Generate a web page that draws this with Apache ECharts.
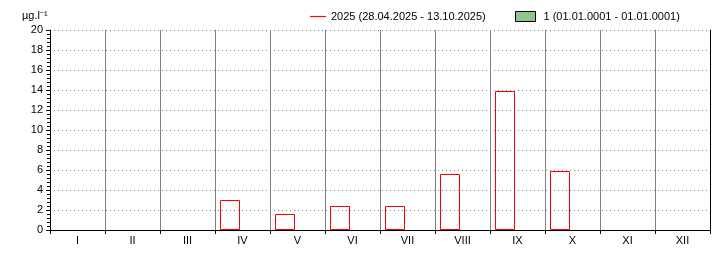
<!DOCTYPE html>
<html>
<head>
<meta charset="utf-8">
<script src="https://cdn.jsdelivr.net/npm/echarts@6/dist/echarts.min.js"></script>
<style>html,body{margin:0;padding:0;background:#fff;}#c{width:720px;height:260px;}</style>
</head>
<body>
<div id="c"></div>
<script>
var months = ['I','II','III','IV','V','VI','VII','VIII','IX','X','XI','XII'];
var values2025 = [null, null, null, 3.0, 1.6, 2.4, 2.4, 5.6, 13.9, 5.9, null, null];
var valuesRef = [null, null, null, null, null, null, null, null, null, null, null, null];
var seriesNames = ['2025 (28.04.2025 - 13.10.2025)', '1 (01.01.0001 - 01.01.0001)'];
var unitLabel = 'µg.l⁻¹';

var font = 'Liberation Sans, Arial, sans-serif';
var chart = echarts.init(document.getElementById('c'), null, {renderer: 'canvas'});
chart.setOption({
  animation: false,
  backgroundColor: '#fff',
  title: {
    text: unitLabel, left: 17, top: 5,
    textStyle: {fontFamily: font, fontSize: 11, fontWeight: 'normal', color: '#000'}
  },
  legend: [{
    left: 305, top: 6, itemWidth: 16, itemHeight: 10,
    data: [{name: seriesNames[0], icon: 'path://M0,0H16V1.2H0Z', itemStyle: {color: '#ff0000', borderWidth: 0}}],
    textStyle: {fontFamily: font, fontSize: 11, color: '#000'}
  }, {
    left: 510, top: 6, itemWidth: 20, itemHeight: 10,
    data: [{name: seriesNames[1], icon: 'rect', itemStyle: {color: '#8fc58f', borderColor: '#000', borderWidth: 1}}],
    textStyle: {fontFamily: font, fontSize: 11, color: '#000', padding: [0, 0, 0, 3]}
  }],
  grid: {left: 50, right: 10, top: 30, bottom: 30, containLabel: false},
  xAxis: [{
    type: 'category', data: months, boundaryGap: true,
    axisLine: {lineStyle: {color: '#000', width: 1}},
    axisTick: {show: true, length: 4, lineStyle: {color: '#000'}},
    axisLabel: {fontFamily: font, fontSize: 11, color: '#000', margin: 5, interval: 0},
    splitLine: {show: true, lineStyle: {color: '#808080', width: 1}}
  }, {
    type: 'category', data: months, position: 'top',
    axisLine: {lineStyle: {color: '#000', width: 1}},
    axisTick: {show: false}, axisLabel: {show: false}, splitLine: {show: false}
  }],
  yAxis: [{
    type: 'value', min: 0, max: 20, interval: 2,
    axisLine: {show: true, lineStyle: {color: '#000', width: 1}},
    axisTick: {show: true, length: 4, lineStyle: {color: '#000'}},
    minorTick: {show: true, splitNumber: 5, length: 3, lineStyle: {color: '#000'}},
    axisLabel: {fontFamily: font, fontSize: 11, color: '#000', margin: 7},
    splitLine: {show: true, lineStyle: {color: '#808080', type: [1, 3], width: 1}}
  }, {
    type: 'value', min: 0, max: 20, interval: 2, position: 'right',
    axisLine: {show: true, lineStyle: {color: '#000', width: 1}},
    axisTick: {show: false}, axisLabel: {show: false}, splitLine: {show: false}
  }],
  series: [{
    name: seriesNames[0], type: 'bar', data: values2025,
    barWidth: 20, barGap: '25%',
    itemStyle: {color: 'rgba(0,0,0,0)', borderColor: '#ff0000', borderWidth: 1}
  }, {
    name: seriesNames[1], type: 'bar', data: valuesRef,
    barWidth: 20,
    itemStyle: {color: '#8fc58f', borderColor: '#000', borderWidth: 1}
  }]
});
</script>
</body>
</html>
